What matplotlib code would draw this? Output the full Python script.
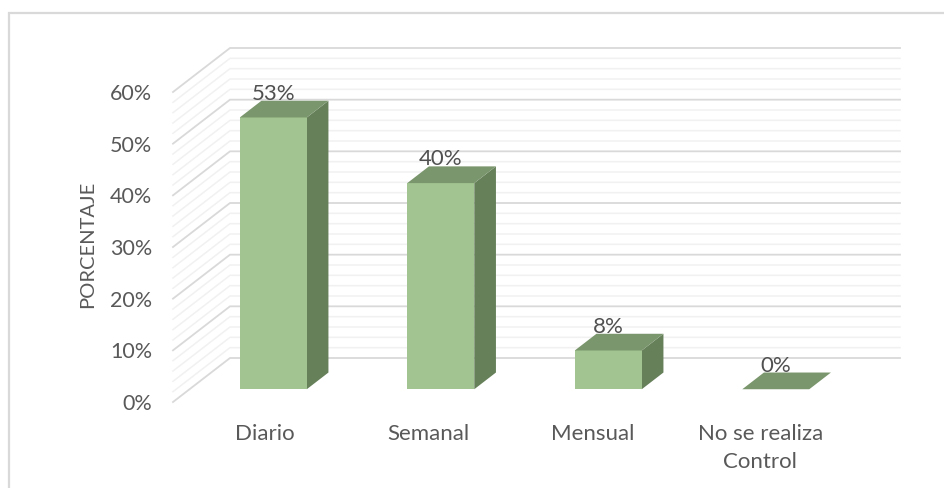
import matplotlib.pyplot as plt
from matplotlib.patches import Polygon, Rectangle
from matplotlib.transforms import ScaledTranslation

categorias = ["Diario", "Semanal", "Mensual", "No se realiza\nControl"]
valores = [52.6, 39.9, 7.5, 0]
etiquetas = ["53%", "40%", "8%", "0%"]
ticks_y = [0, 10, 20, 30, 40, 50, 60]
ticks_menores = list(range(0, 61, 2))

W, H = 945, 488
VERDE_FRENTE = "#A1C490"
VERDE_TECHO = "#7A966C"
VERDE_LADO = "#66805A"
GRIS_TEXTO = "#595959"

plt.rcParams["font.family"] = ["Lato", "DejaVu Sans"]

fig = plt.figure(figsize=(W / 100, H / 100), dpi=100)
ax = fig.add_axes([173 / W, 1 - 402 / H, 670 / W, 310 / H])
ax.set_xlim(-0.5, 3.5)
ax.set_ylim(0, 60)
ax.patch.set_visible(False)
for s in ax.spines.values():
    s.set_visible(False)

# profundidad del grafico 3D, pasada a unidades de datos
PROF_X = 57 / 167.5
PROF_Y = 44 / (310 / 60)

def proy(x, y, d):
    return (x + d * PROF_X, y + d * PROF_Y)

#paredes con lineas de cuadricula
for v in ticks_menores:
    mayor = v in ticks_y
    color = "#D9D9D9" if mayor else "#F1F1F1"
    lw = 1.3 if mayor else 1.1
    a = proy(-0.5, v, 0)
    b = proy(-0.5, v, 1)
    c = proy(3.5, v, 1)
    ax.plot([a[0], b[0], c[0]], [a[1], b[1], c[1]], color=color, lw=lw,
            clip_on=False, zorder=1 if not mayor else 2)

#barras
ancho = 0.4
d0, d1 = 0.29, 0.67
for i, v in enumerate(valores):
    x0, x1 = i - ancho / 2, i + ancho / 2
    frente = [proy(x0, 0, d0), proy(x1, 0, d0), proy(x1, v, d0), proy(x0, v, d0)]
    techo = [proy(x0, v, d0), proy(x1, v, d0), proy(x1, v, d1), proy(x0, v, d1)]
    lado = [proy(x1, 0, d0), proy(x1, 0, d1), proy(x1, v, d1), proy(x1, v, d0)]
    ax.add_patch(Polygon(lado, fc=VERDE_LADO, ec="none", clip_on=False, zorder=3))
    ax.add_patch(Polygon(frente, fc=VERDE_FRENTE, ec="none", clip_on=False, zorder=3))
    ax.add_patch(Polygon(techo, fc=VERDE_TECHO, ec="none", clip_on=False, zorder=3))
    ax.annotate(etiquetas[i], xy=proy(i, v, d0), xytext=(0, 17), textcoords="offset points",
                ha="center", va="center", fontsize=16, color="#505050", zorder=4)

ax.set_yticks(ticks_y)
ax.set_yticklabels([f"{t}%" for t in ticks_y], fontsize=15.5, color=GRIS_TEXTO)
ax.set_xticks(range(len(categorias)))
ax.set_xticklabels(categorias, fontsize=16, color=GRIS_TEXTO, linespacing=1.55)
ax.tick_params(axis="y", length=0, pad=15)
ax.tick_params(axis="x", length=0, pad=15.5)
ax.set_ylabel("PORCENTAJE", fontsize=14.5, color=GRIS_TEXTO)
ax.yaxis.set_label_coords(-0.1148, 0.5097)

# las etiquetas del eje x no quedan centradas del todo en el original
for lab, dx in zip(ax.get_xticklabels(), [8, 4, 1, 1]):
    lab.set_transform(lab.get_transform() + ScaledTranslation(dx / 100, 0, fig.dpi_scale_trans))

#marco del grafico
fig.add_artist(Rectangle((9 / W, -0.02), 1.02, 1 - 12.5 / H + 0.02, transform=fig.transFigure,
                         fc="none", ec="#D9D9D9", lw=1.6))

fig.savefig("out.png", dpi=100)
plt.close()
